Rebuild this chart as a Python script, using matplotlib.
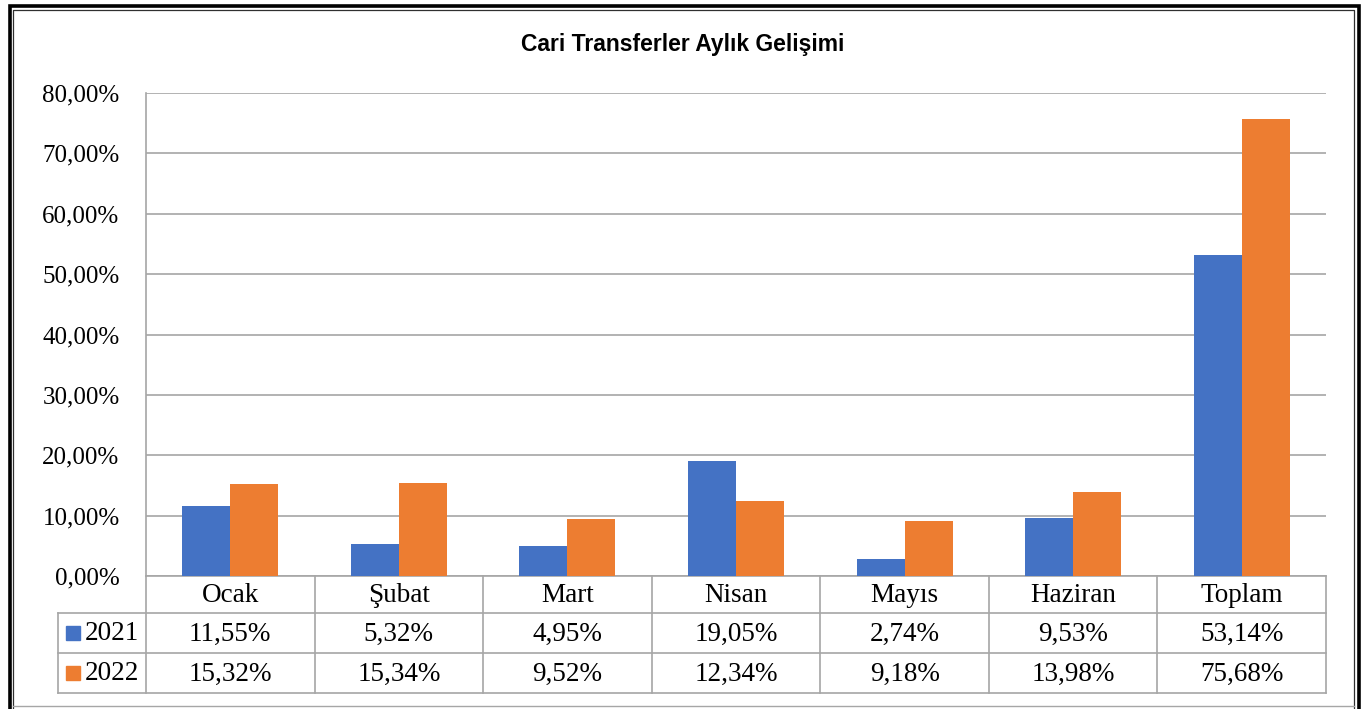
import matplotlib
matplotlib.use('Agg')
import matplotlib.pyplot as plt
from matplotlib.patches import Rectangle
from matplotlib.lines import Line2D
import matplotlib.transforms as mtransforms

# Veriler
months = ['Ocak', 'Şubat', 'Mart', 'Nisan', 'Mayıs', 'Haziran', 'Toplam']
years = ['2021', '2022']
vals_2021 = [11.55, 5.32, 4.95, 19.05, 2.74, 9.53, 53.14]
vals_2022 = [15.32, 15.34, 9.52, 12.34, 9.18, 13.98, 75.68]
yticks = [0, 10, 20, 30, 40, 50, 60, 70, 80]

colors = ['#4472C4', '#ED7D31']
grid_col = '#A6A6A6'
serif = ['Liberation Serif', 'DejaVu Serif']

W, H = 1362, 709
fig = plt.figure(figsize=(W / 100, H / 100), dpi=100)


def fx(px):
    return px / W


def fy(py):
    return 1 - py / H


def pct(v):
    return f'{v:.2f}'.replace('.', ',') + '%'


ax = fig.add_axes([fx(146), fy(576), fx(1326) - fx(146), fy(93) - fy(576)])

x = list(range(len(months)))
bw = 0.285
ax.bar([i - bw / 2 for i in x], vals_2021, width=bw, color=colors[0], zorder=3)
ax.bar([i + bw / 2 for i in x], vals_2022, width=bw, color=colors[1], zorder=3)

ax.set_xlim(-0.5, len(months) - 0.5)
ax.set_ylim(0, 80)
ax.set_yticks(yticks)
ax.set_yticklabels([pct(v) for v in yticks], family=serif, fontsize=18)
ax.tick_params(axis='y', length=0, pad=19)
ax.set_xticks([])
ax.grid(True, axis='y', color=grid_col, linewidth=1.2, zorder=0)
for s in ['top', 'right', 'bottom']:
    ax.spines[s].set_visible(False)
ax.spines['left'].set_color(grid_col)
ax.spines['left'].set_linewidth(1.2)

# Başlık
fig.text(fx(683), fy(45), 'Cari Transferler Aylık Gelişimi', ha='center', va='center',
         fontsize=16.5, fontweight='bold',
         family=['Liberation Sans Narrow', 'Liberation Sans', 'DejaVu Sans'])

# Veri tablosu
tr = mtransforms.blended_transform_factory(ax.transData, fig.transFigure)
lkw = dict(color=grid_col, linewidth=1.2, clip_on=False)
left_d = -0.5
right_d = len(months) - 0.5
leg_left = left_d - (146 - 58) / ((1326 - 146) / len(months))

for yy in [613, 653, 693]:
    ax.plot([leg_left, right_d], [fy(yy), fy(yy)], transform=tr, **lkw)
ax.plot([left_d, right_d], [fy(576), fy(576)], transform=tr, **lkw)
for i in range(len(months) + 1):
    ax.plot([i - 0.5, i - 0.5], [fy(576), fy(693)], transform=tr, **lkw)
ax.plot([leg_left, leg_left], [fy(613), fy(693)], transform=tr, **lkw)

tfs = 19.5
for i, m in enumerate(months):
    ax.text(i, fy(596), m, transform=tr, ha='center', va='center', family=serif, fontsize=tfs)
    ax.text(i, fy(634), pct(vals_2021[i]), transform=tr,
            ha='center', va='center', family=serif, fontsize=tfs)
    ax.text(i, fy(674), pct(vals_2022[i]), transform=tr,
            ha='center', va='center', family=serif, fontsize=tfs)

for k, (yr, row_y) in enumerate(zip(years, [633, 673])):
    fig.add_artist(Rectangle((fx(66), fy(row_y + 7)), fx(14), fy(row_y - 7) - fy(row_y + 7),
                             color=colors[k], transform=fig.transFigure))
    fig.text(fx(85), fy(row_y + 1), yr, ha='left', va='center', family=serif, fontsize=tfs)

# Dış çerçeve (alt kenar kırpılmış)
fkw = dict(transform=fig.transFigure)
fig.add_artist(Line2D([fx(9.5), fx(9.5), fx(1359), fx(1359)],
                      [fy(709), fy(5.5), fy(5.5), fy(709)],
                      color='black', linewidth=2.6, solid_joinstyle='miter', **fkw))
fig.add_artist(Line2D([fx(13), fx(13), fx(1354), fx(1354)],
                      [fy(709), fy(9.5), fy(9.5), fy(709)],
                      color='#303030', linewidth=0.9, **fkw))
fig.add_artist(Line2D([fx(13), fx(1354)], [fy(706), fy(706)],
                      color=grid_col, linewidth=1.0, **fkw))

fig.savefig('out.png', dpi=100)
